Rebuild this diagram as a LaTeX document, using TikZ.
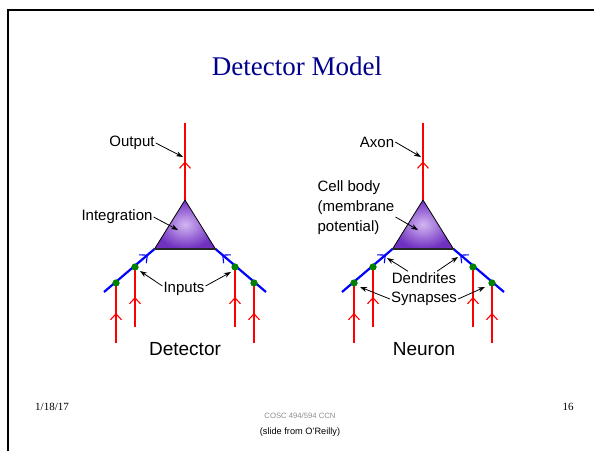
\documentclass[tikz,border=0pt]{standalone}
\usepackage{fontspec}
\setmainfont{Liberation Serif}
\setsansfont{Liberation Sans}
\usetikzlibrary{arrows.meta,decorations.markings}

\definecolor{titleblue}{RGB}{0,0,140}
\definecolor{somaedge}{RGB}{112,48,192}
\definecolor{somacore}{RGB}{210,182,242}
\definecolor{synapsegreen}{RGB}{0,128,0}

\tikzset{
  axonline/.style={red, line width=2.2pt, postaction={decorate},
    decoration={markings, mark=at position 0.5 with {\arrow[line width=1.1pt]{Straight Barb[length=6pt,width=11pt]}}}},
  dendline/.style={blue, line width=2.2pt, postaction={decorate},
    decoration={markings, mark=at position 0.87 with {\arrow[line width=1.1pt]{Straight Barb[length=6pt,width=11pt]}}}},
  synapse/.style={circle, fill=synapsegreen, inner sep=0pt, minimum size=7pt},
  lbl/.style={font=\sffamily\fontsize{15}{20}\selectfont, inner sep=1pt},
  pointer/.style={-{Stealth[length=7pt,width=5pt]}, line width=0.8pt},
}

\begin{document}
\begin{tikzpicture}[x=1pt,y=-1pt]
  \useasboundingbox (0,0) rectangle (594,451);

  % slide frame and title
  \draw[line width=2pt] (8,451) -- (8,10) -- (594,10);
  \node[font=\fontsize{27}{32}\selectfont, text=titleblue] (title) at (297,66) {Detector Model};

  % the two cells: detector (d) and neuron (n)
  \foreach \pre/\ax in {d/185,n/423}{
    \coordinate (\pre apex) at (\ax,200);
    \coordinate (\pre bl) at (\ax-30.5,249);
    \coordinate (\pre br) at (\ax+30.5,249);
    \coordinate (\pre top) at (\ax,123);
    \coordinate (\pre dl) at (\ax-81,292);
    \coordinate (\pre dr) at (\ax+81,292);
    \coordinate (\pre i1) at (\ax-69,343);
    \coordinate (\pre i2) at (\ax-50,327);
    \coordinate (\pre i3) at (\ax+50,327);
    \coordinate (\pre i4) at (\ax+69,343);
    \node[synapse] (\pre s1) at (\ax-69,283) {};
    \node[synapse] (\pre s2) at (\ax-50,267) {};
    \node[synapse] (\pre s3) at (\ax+50,267) {};
    \node[synapse] (\pre s4) at (\ax+69,283) {};
    % inputs
    \draw[axonline] (\pre i1) -- (\pre s1.center);
    \draw[axonline] (\pre i2) -- (\pre s2.center);
    \draw[axonline] (\pre i3) -- (\pre s3.center);
    \draw[axonline] (\pre i4) -- (\pre s4.center);
    % dendrites
    \draw[dendline] (\pre dl) -- (\pre bl);
    \draw[dendline] (\pre dr) -- (\pre br);
    \node[synapse] at (\pre s1) {};
    \node[synapse] at (\pre s2) {};
    \node[synapse] at (\pre s3) {};
    \node[synapse] at (\pre s4) {};
    % output
    \draw[axonline] (\pre apex) -- (\pre top);
    % body
    \shade[inner color=somacore, outer color=somaedge] (\pre apex) -- (\pre br) -- (\pre bl) -- cycle;
    \draw[line width=0.8pt, line join=round] (\pre bl) -- (\pre apex) -- (\pre br);
    \draw[line width=1.6pt, black!85] (\pre bl) -- (\pre br);
  }

  % detector labels
  \node[lbl] (outlbl) at (132,143) {Output};
  \coordinate (outtip) at (183,157);
  \draw[pointer] (outlbl.east) -- (outtip);
  \node[lbl] (intlbl) at (117,217) {Integration};
  \coordinate (inttip) at (178,230);
  \draw[pointer] (intlbl.east) -- (inttip);
  \node[lbl] (inlbl) at (184,289) {Inputs};
  \coordinate (intipl) at (140,271);
  \coordinate (intipr) at (231,272);
  \draw[pointer] ([yshift=3pt]inlbl.west) -- (intipl);
  \draw[pointer] ([yshift=3pt]inlbl.east) -- (intipr);
  \node[font=\sffamily\fontsize{19}{23}\selectfont] (detlbl) at (185,349) {Detector};

  % neuron labels
  \node[lbl] (axonlbl) at (377,142) {Axon};
  \coordinate (axontip) at (421,157);
  \draw[pointer] (axonlbl.east) -- (axontip);
  \node[lbl, align=left] (celllbl) at (356,208) {Cell body\\(membrane\\potential)};
  \coordinate (celltip) at (418,230);
  \draw[pointer] ([yshift=-9pt]celllbl.east) -- (celltip);
  \node[lbl] (dendlbl) at (424,278) {Dendrites};
  \coordinate (dendtipl) at (387,258);
  \coordinate (dendtipr) at (458,257);
  \draw[pointer] ([xshift=-16pt]dendlbl.north) -- (dendtipl);
  \draw[pointer] ([xshift=13pt]dendlbl.north) -- (dendtipr);
  \node[lbl] (synlbl) at (424,299) {Synapses};
  \coordinate (syntipl) at (360,287);
  \coordinate (syntipr) at (485,287);
  \draw[pointer] (synlbl.west) -- (syntipl);
  \draw[pointer] (synlbl.east) -- (syntipr);
  \node[font=\sffamily\fontsize{19}{23}\selectfont] (neurlbl) at (424,349) {Neuron};

  % footer
  \node[font=\fontsize{11}{13}\selectfont] (datelbl) at (52,407) {1/18/17};
  \node[font=\fontsize{11}{13}\selectfont] (pagelbl) at (568,407) {16};
  \node[font=\sffamily\fontsize{7.7}{9}\selectfont, text=black!45] (courselbl) at (300,416) {COSC 494/594 CCN};
  \node[font=\sffamily\fontsize{9.2}{11}\selectfont] (srclbl) at (300,432) {(slide from O'Reilly)};
\end{tikzpicture}
\end{document}
